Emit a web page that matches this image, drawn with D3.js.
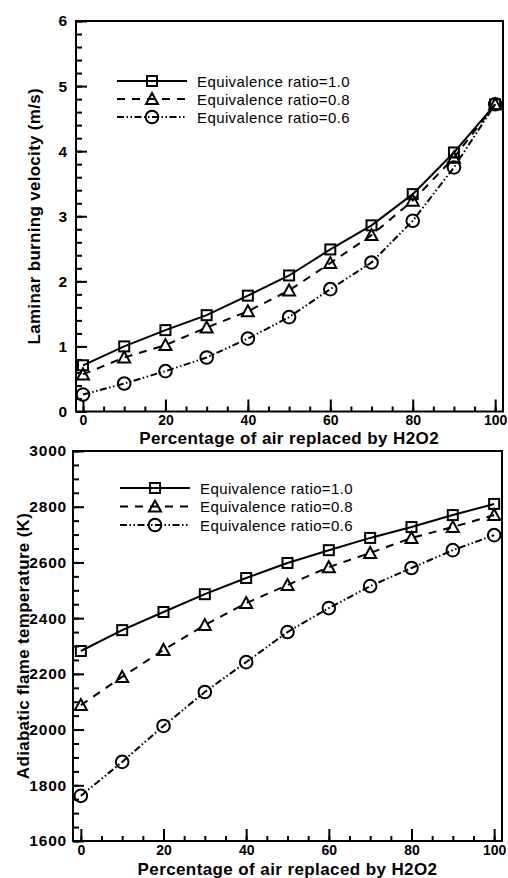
<!DOCTYPE html>
<html><head><meta charset="utf-8">
<script src="https://cdn.jsdelivr.net/npm/d3@7"></script>
<style>
body{margin:0;background:#fff;}
svg{display:block;font-family:"Liberation Sans",Arial,sans-serif;}
</style></head>
<body>
<svg id="c" width="508" height="878"></svg>
<script>
const percent = [0,10,20,30,40,50,60,70,80,90,100];
const seriesNames = ["Equivalence ratio=1.0","Equivalence ratio=0.8","Equivalence ratio=0.6"];
const velocity10 = [0.71,1.00,1.25,1.48,1.78,2.09,2.49,2.86,3.34,3.98,4.72];
const velocity08 = [0.57,0.83,1.02,1.29,1.54,1.86,2.28,2.71,3.24,3.90,4.72];
const velocity06 = [0.26,0.43,0.62,0.83,1.12,1.45,1.88,2.29,2.93,3.75,4.72];
const temp10 = [2282,2357,2422,2486,2544,2598,2644,2688,2727,2770,2810];
const temp08 = [2088,2189,2286,2375,2454,2519,2583,2634,2688,2727,2770];
const temp06 = [1762,1884,2013,2135,2242,2350,2436,2515,2580,2644,2698];
const xTicks = [0,20,40,60,80,100];
const vTicks = [0,1,2,3,4,5,6];
const tTicks = [1600,1800,2000,2200,2400,2600,2800,3000];
const xTitle = "Percentage of air replaced by H2O2";
const vTitle = "Laminar burning velocity (m/s)";
const tTitle = "Adiabatic flame temperature (K)";

const svg = d3.select("#c");
const dashes = [null, "8,7", "7,2.5,1.5,2.5,1.5,2.5"];
const markers = ["square","triangle","circle"];

function drawMarker(g, type, x, y){
  if(type==="square"){
    g.append("rect").attr("x",x-5).attr("y",y-5).attr("width",10).attr("height",10)
      .attr("fill","none").attr("stroke","#000").attr("stroke-width",2);
  } else if(type==="triangle"){
    g.append("path").attr("d",`M${x},${y-6}L${x+6},${y+5}L${x-6},${y+5}Z`)
      .attr("fill","none").attr("stroke","#000").attr("stroke-width",2).attr("stroke-linejoin","miter");
  } else {
    g.append("circle").attr("cx",x).attr("cy",y).attr("r",6.3)
      .attr("fill","none").attr("stroke","#000").attr("stroke-width",2);
  }
}

function panel(o){
  const x = d3.scaleLinear().domain(o.xDomain).range([o.left,o.right]);
  const y = d3.scaleLinear().domain(o.yDomain).range([o.bottom,o.top]);
  const g = svg.append("g");
  // minor ticks
  g.append("g").attr("transform",`translate(${o.left},0)`)
    .call(d3.axisLeft(y).tickValues(d3.range(o.yDomain[0],o.yDomain[1]+1e-9,o.yMinor)).tickSizeInner(-6).tickSizeOuter(0).tickFormat(""))
    .call(a=>a.select(".domain").remove())
    .selectAll("line").attr("stroke","#000").attr("stroke-width",2);
  g.append("g").attr("transform",`translate(0,${o.bottom})`)
    .call(d3.axisBottom(x).tickValues(d3.range(0,101,5)).tickSizeInner(-5).tickSizeOuter(0).tickFormat(""))
    .call(a=>a.select(".domain").remove())
    .selectAll("line").attr("stroke","#000").attr("stroke-width",2);
  // major ticks
  const ya = g.append("g").attr("transform",`translate(${o.left},0)`)
    .call(d3.axisLeft(y).tickValues(o.yTicks).tickSizeInner(-11).tickSizeOuter(0).tickPadding(o.yPad).tickFormat(d3.format("d")));
  ya.select(".domain").remove();
  ya.selectAll("line").attr("stroke","#000").attr("stroke-width",2);
  ya.selectAll("text").attr("font-size",15.5).attr("font-weight","bold").attr("fill","#000")
    .attr("letter-spacing","0.8px")
    .attr("font-family","'Liberation Sans',Arial,sans-serif");
  const xa = g.append("g").attr("transform",`translate(0,${o.bottom})`)
    .call(d3.axisBottom(x).tickValues(xTicks).tickSizeInner(-12).tickSizeOuter(0).tickPadding(4));
  xa.select(".domain").remove();
  xa.selectAll("line").attr("stroke","#000").attr("stroke-width",2);
  xa.selectAll("text").attr("font-size",14).attr("font-weight","bold").attr("fill","#000")
    .attr("font-family","'Liberation Sans',Arial,sans-serif");
  // frame
  g.append("rect").attr("x",o.left).attr("y",o.top).attr("width",o.right-o.left).attr("height",o.bottom-o.top)
    .attr("fill","none").attr("stroke","#000").attr("stroke-width",2);
  // titles
  g.append("text").attr("x",(x(0)+x(100))/2).attr("y",o.xTitleY).attr("text-anchor","middle")
    .attr("font-size",17).attr("font-weight","bold").attr("letter-spacing","0.4px").text(xTitle);
  g.append("text").attr("transform",`translate(${o.yTitleX},${(o.top+o.bottom)/2}) rotate(-90)`)
    .attr("text-anchor","middle").attr("font-size",17).attr("font-weight","bold").attr("letter-spacing","0.3px").text(o.yTitle);
  // series
  o.series.forEach((s,i)=>{
    const line = d3.line().x((d,j)=>x(percent[j])).y(d=>y(d));
    g.append("path").datum(s).attr("d",line).attr("fill","none").attr("stroke","#000")
      .attr("stroke-width",2).attr("stroke-dasharray",dashes[i]);
    s.forEach((v,j)=>drawMarker(g,markers[i],x(percent[j]),y(v)));
  });
  // legend
  seriesNames.forEach((n,i)=>{
    const ly = o.legY + i*o.legStep;
    g.append("line").attr("x1",o.legX).attr("x2",o.legX+70).attr("y1",ly).attr("y2",ly)
      .attr("stroke","#000").attr("stroke-width",2).attr("stroke-dasharray",dashes[i]);
    drawMarker(g,markers[i],o.legX+35,ly);
    g.append("text").attr("x",o.legX+80).attr("y",ly+5.5).attr("font-size",15)
      .attr("letter-spacing","0.4px").text(n);
  });
}

panel({left:76,right:503,top:21,bottom:411.5,xDomain:[-1.7,101.9],yDomain:[0,6],yTicks:vTicks,yMinor:0.2,yPad:8,
  xTitleY:444,yTitleX:40,yTitle:vTitle,series:[velocity10,velocity08,velocity06],legX:117,legY:81,legStep:18});
panel({left:73,right:502,top:451,bottom:841,xDomain:[-1.9,101.9],yDomain:[1600,3000],yTicks:tTicks,yMinor:50,yPad:6,
  xTitleY:875,yTitleX:29,yTitle:tTitle,series:[temp10,temp08,temp06],legX:120,legY:488,legStep:18.5});
</script>
</body></html>
